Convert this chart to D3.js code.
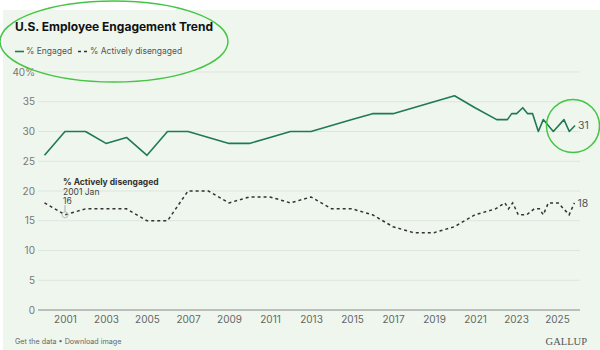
<!DOCTYPE html>
<html><head><meta charset="utf-8">
<script src="https://cdn.jsdelivr.net/npm/d3@7"></script>
<style>
html,body{margin:0;padding:0;background:#fff;}
svg{display:block;font-family:Inter, "Open Sans", sans-serif;}
</style></head>
<body><svg id="c" width="600" height="350"></svg>
<script>
const engagedYears = [2000,2001,2002,2003,2004,2005,2006,2007,2008,2009,2010,2011,2012,2013,2014,2015,2016,2017,2018,2019,2020,2021,2022.06,2022.58,2022.79,2023.03,2023.33,2023.57,2023.81,2024.09,2024.33,2024.82,2025.34,2025.6,2025.88];
const engagedValues = [26,30,30,28,29,26,30,30,29,28,28,29,30,30,31,32,33,33,34,35,36,34,32,32,33,33,34,33,33,30,32,30,32,30,31];
const disengagedYears = [2000,2001,2002,2003,2004,2005,2006,2007,2008,2009,2010,2011,2012,2013,2014,2015,2016,2017,2018,2019,2020,2021,2022,2022.46,2022.63,2022.84,2023.11,2023.52,2023.89,2024.14,2024.33,2024.58,2025.06,2025.59,2025.85];
const disengagedValues = [18,16,17,17,17,15,15,20,20,18,19,19,18,19,17,17,16,14,13,13,14,16,17,18,17,18,16,16,17,17,16,18,18,16,18];
const yTicks = [0,5,10,15,20,25,30,35,40];
const xTicks = [2001,2003,2005,2007,2009,2011,2013,2015,2017,2019,2021,2023,2025];
const seriesNames = ["% Engaged","% Actively disengaged"];

const svg = d3.select("#c");
svg.append("rect").attr("x",3).attr("y",10).attr("width",597).attr("height",340).attr("fill","#eef6ee");

const x = d3.scaleLinear().domain([2000,2025]).range([44.5,557]);
const y = d3.scaleLinear().domain([0,40]).range([310,72]);

// gridlines
svg.append("g").selectAll("line").data(yTicks.filter(d=>d>0)).join("line")
  .attr("x1",38).attr("x2",580).attr("y1",d=>y(d)).attr("y2",d=>y(d))
  .attr("stroke","#dde6dd").attr("stroke-width",1);
svg.append("line").attr("x1",38).attr("x2",580).attr("y1",y(0)).attr("y2",y(0)).attr("stroke","#888").attr("stroke-width",1.2);

// y labels
svg.append("g").selectAll("text").data(yTicks).join("text")
  .attr("x",35).attr("y",d=>y(d)).attr("dy","0.35em").attr("text-anchor","end")
  .attr("font-size",10).attr("fill","#777").text(d=>d===40?d+"%":d);

// x axis
const xa = svg.append("g").attr("transform","translate(0,310)")
  .call(d3.axisBottom(x).tickValues(xTicks).tickFormat(d3.format("d")).tickSize(0).tickPadding(6));
xa.select(".domain").remove();
xa.selectAll("text").attr("font-size",10).attr("fill","#666").attr("font-family","Inter, sans-serif");

const eData = engagedYears.map((d,i)=>[d,engagedValues[i]]);
const dData = disengagedYears.map((d,i)=>[d,disengagedValues[i]]);
const line = d3.line().x(d=>x(d[0])).y(d=>y(d[1]));

svg.append("path").attr("d",line(eData)).attr("fill","none").attr("stroke","#1f7a52").attr("stroke-width",1.6).attr("stroke-linejoin","round");
svg.append("path").attr("d",line(dData)).attr("fill","none").attr("stroke","#333").attr("stroke-width",1.5).attr("stroke-dasharray","3,3");

// end labels
const eLast = eData[eData.length-1], dLast = dData[dData.length-1];
svg.append("text").attr("x",x(eLast[0])+3).attr("y",y(eLast[1])).attr("dy","0.35em").attr("font-size",10.5).attr("fill","#555").text(eLast[1]);
svg.append("text").attr("x",x(dLast[0])+3).attr("y",y(dLast[1])).attr("dy","0.35em").attr("font-size",10.5).attr("fill","#555").text(dLast[1]);

// tooltip annotation
const tip = dData[1];
svg.append("line").attr("x1",x(tip[0])).attr("x2",x(tip[0])).attr("y1",205).attr("y2",y(tip[1])-3).attr("stroke","#aaa").attr("stroke-width",1);
svg.append("circle").attr("cx",x(tip[0])).attr("cy",y(tip[1])).attr("r",3).attr("fill","none").attr("stroke","#bbb").attr("stroke-width",1);
svg.append("text").attr("x",63).attr("y",182.5).attr("dy","0.35em").attr("font-size",8.5).attr("font-weight","bold").attr("fill","#333").text(seriesNames[1]);
svg.append("text").attr("x",63).attr("y",192).attr("dy","0.35em").attr("font-size",8.5).attr("fill","#444").text("2001 Jan");
svg.append("text").attr("x",63).attr("y",201.5).attr("dy","0.35em").attr("font-size",8.5).attr("fill","#444").text(tip[1]);

// title & legend
svg.append("text").attr("x",15).attr("y",31).attr("font-size",12).attr("font-weight","bold").attr("fill","#111").text("U.S. Employee Engagement Trend");
svg.append("line").attr("x1",15).attr("x2",24).attr("y1",51.5).attr("y2",51.5).attr("stroke","#1f7a52").attr("stroke-width",1.6);
svg.append("text").attr("x",26).attr("y",51.5).attr("dy","0.35em").attr("font-size",8.5).attr("fill","#555").text(seriesNames[0]);
svg.append("line").attr("x1",78).attr("x2",88).attr("y1",51.5).attr("y2",51.5).attr("stroke","#333").attr("stroke-width",1.5).attr("stroke-dasharray","3,3");
svg.append("text").attr("x",90).attr("y",51.5).attr("dy","0.35em").attr("font-size",8.5).attr("fill","#555").text(seriesNames[1]);

// footer
svg.append("text").attr("x",15).attr("y",341).attr("dy","0.35em").attr("font-size",7.2).attr("fill","#666").text("Get the data • Download image");
svg.append("text").attr("x",587).attr("y",341).attr("dy","0.35em").attr("text-anchor","end").attr("font-size",10.5).attr("font-family","'Liberation Serif', serif").attr("fill","#555").text("GALLUP");

// green highlight annotations
svg.append("ellipse").attr("cx",114).attr("cy",41.5).attr("rx",114).attr("ry",40.5).attr("fill","none").attr("stroke","#45c545").attr("stroke-width",1.5);
svg.append("circle").attr("cx",573).attr("cy",126).attr("r",26.5).attr("fill","none").attr("stroke","#45c545").attr("stroke-width",1.5);
</script></body></html>
